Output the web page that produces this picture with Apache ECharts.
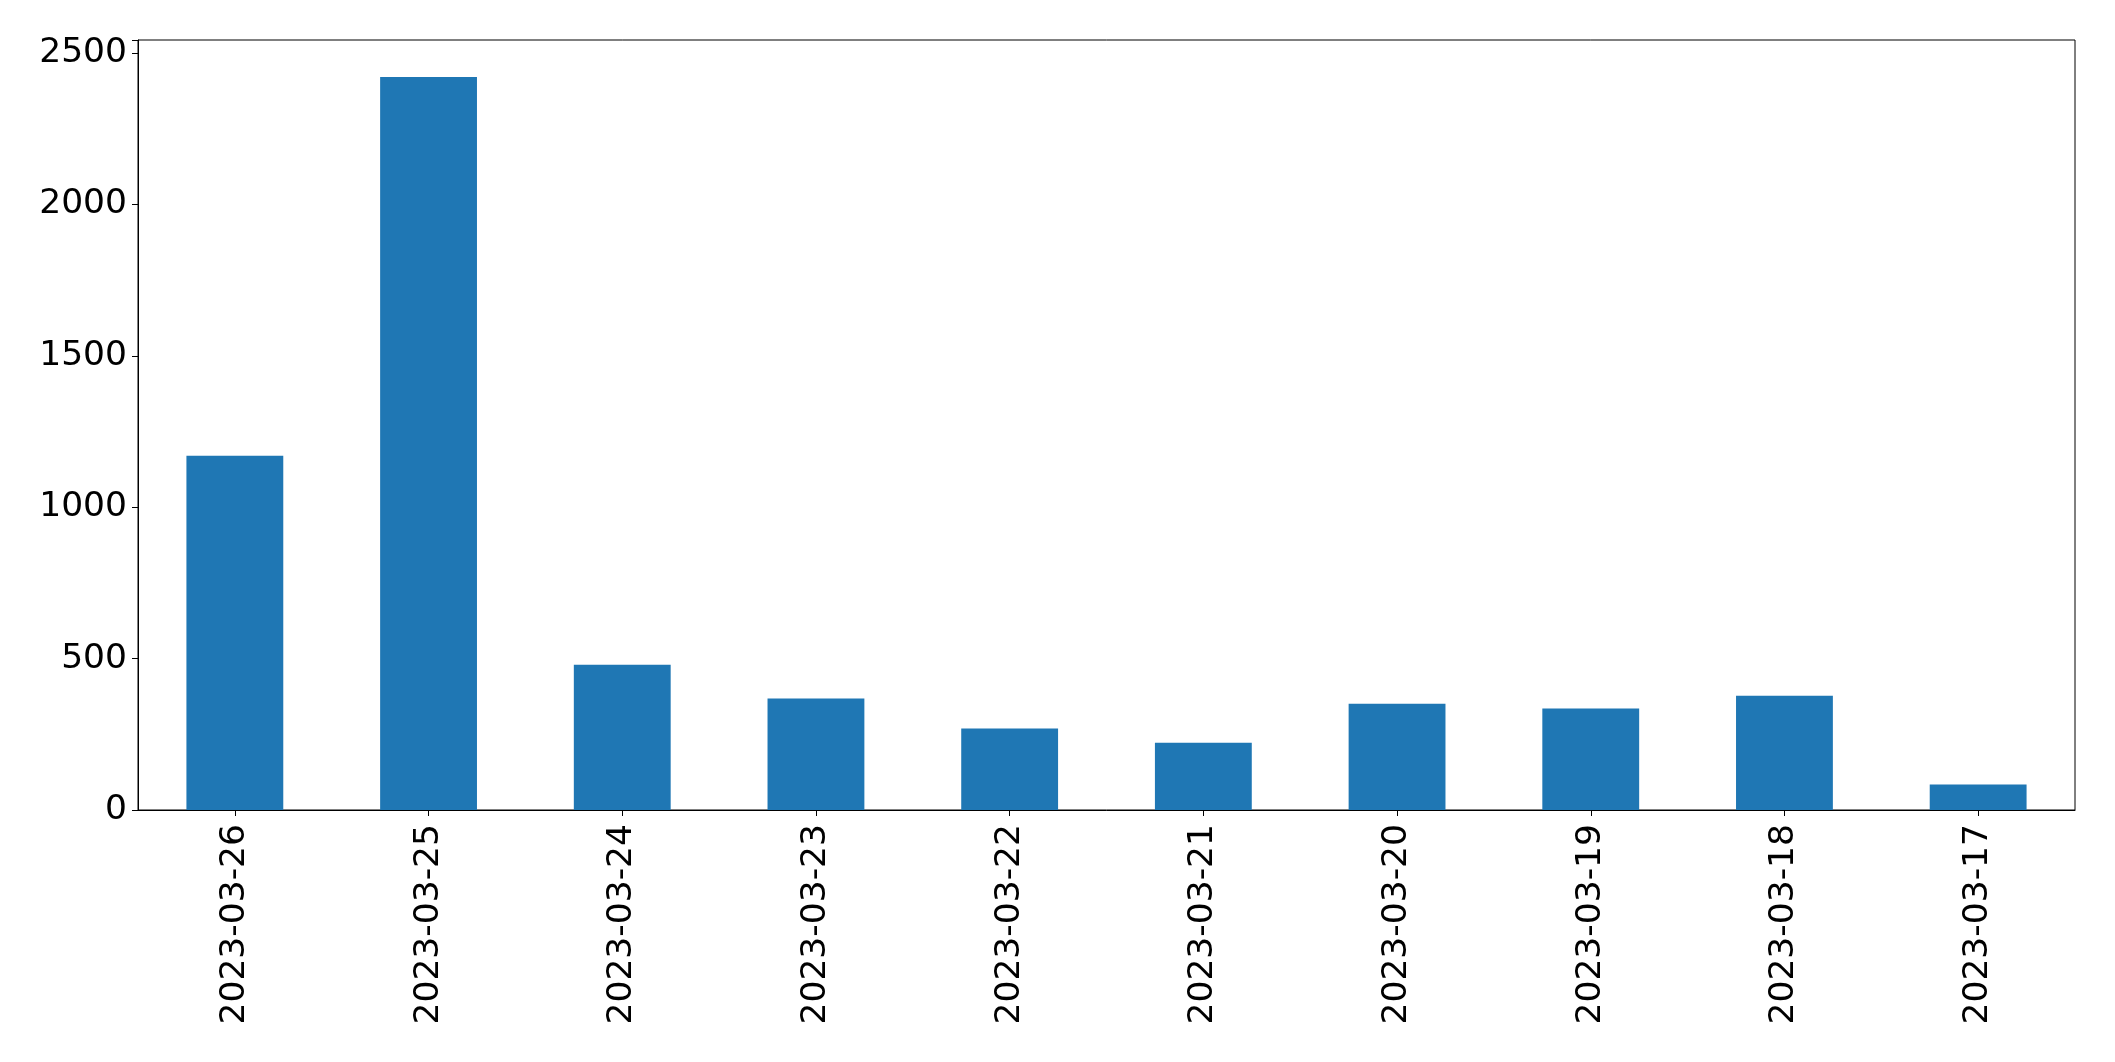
<!DOCTYPE html>
<html>
<head>
<meta charset="utf-8">
<script src="https://cdn.jsdelivr.net/npm/echarts@6/dist/echarts.min.js"></script>
<style>
html,body{margin:0;padding:0;background:#fff;}
#chart{width:2115px;height:1062px;}
</style>
</head>
<body>
<div id="chart"></div>
<script>
const categories = ['2023-03-26','2023-03-25','2023-03-24','2023-03-23','2023-03-22','2023-03-21','2023-03-20','2023-03-19','2023-03-18','2023-03-17'];
const values = [1170, 2421, 480, 368, 269, 222, 351, 335, 377, 84];
const yTicks = [0, 500, 1000, 1500, 2000, 2500];

const chart = echarts.init(document.getElementById('chart'), null, {renderer: 'canvas'});
const font = 'DejaVu Sans';
chart.setOption({
  animation: false,
  backgroundColor: '#fff',
  grid: {left: 138, top: 40, right: 40, bottom: 252, show: true, borderColor: '#000', borderWidth: 1, backgroundColor: 'transparent'},
  xAxis: {
    type: 'category',
    data: categories,
    boundaryGap: true,
    axisLine: {show: true, lineStyle: {color: '#000', width: 1}},
    axisTick: {show: true, alignWithLabel: true, length: 6, lineStyle: {color: '#000', width: 1}},
    axisLabel: {rotate: 90, margin: 14, color: '#000', fontSize: 34.5, fontFamily: font, interval: 0},
    splitLine: {show: false}
  },
  yAxis: {
    type: 'value',
    min: 0,
    max: 2543,
    interval: 500,
    axisLine: {show: true, lineStyle: {color: '#000', width: 1}},
    axisTick: {show: true, length: 6, lineStyle: {color: '#000', width: 1}},
    axisLabel: {
      margin: 11, color: '#000', fontSize: 34.5, fontFamily: font,
      padding: [8, 0, 0, 0],
      formatter: function (v) { return yTicks.indexOf(v) >= 0 ? String(v) : ''; }
    },
    splitLine: {show: false}
  },
  series: [{
    type: 'bar',
    data: values,
    barWidth: '50%',
    itemStyle: {color: '#1f77b4'}
  }]
});
</script>
</body>
</html>
